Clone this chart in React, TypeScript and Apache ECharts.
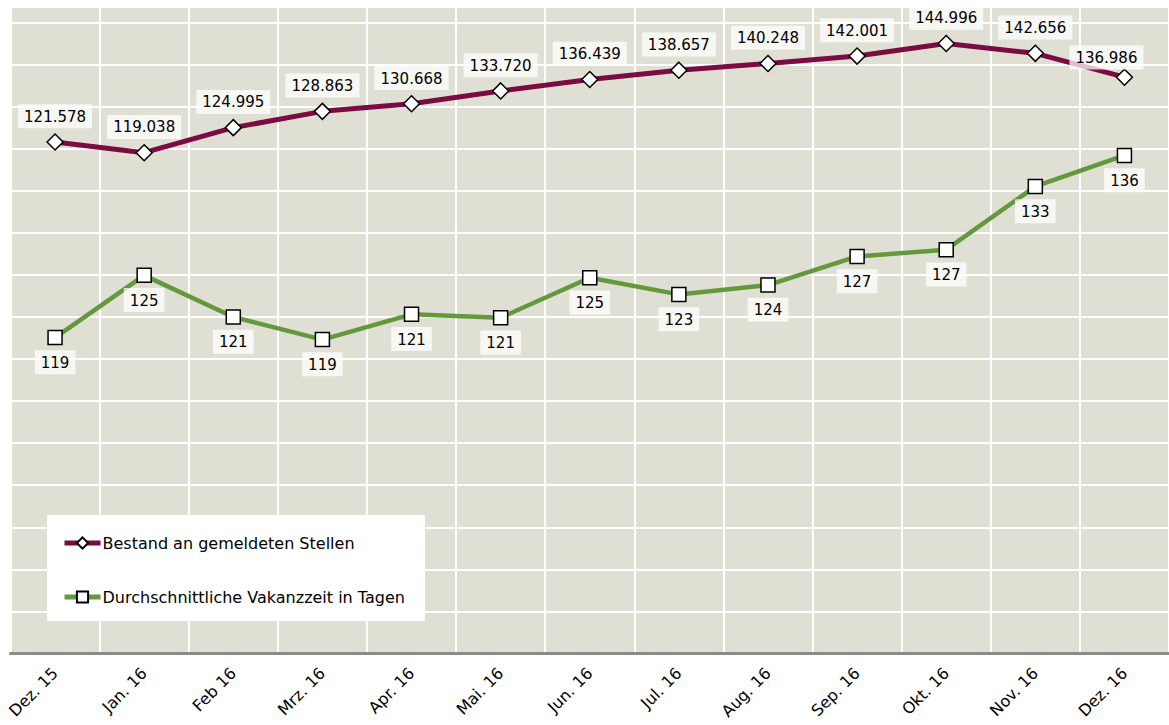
import React, { useEffect, useRef } from "react";
import * as echarts from "echarts";

const categories = [
  "Dez. 15", "Jan. 16", "Feb 16", "Mrz. 16", "Apr. 16", "Mai. 16", "Jun. 16",
  "Jul. 16", "Aug. 16", "Sep. 16", "Okt. 16", "Nov. 16", "Dez. 16",
];
// Bestand an gemeldeten Stellen (in Tausend)
const bestand = [
  121.578, 119.038, 124.995, 128.863, 130.668, 133.72, 136.439,
  138.657, 140.248, 142.001, 144.996, 142.656, 136.986,
];
// Durchschnittliche Vakanzzeit in Tagen (geschätzt aus Bild)
const vakanz = [
  119.17, 124.92, 121.07, 118.99, 121.32, 121.01, 124.7,
  123.16, 124.02, 126.67, 127.29, 133.13, 135.99,
];
const seriesNames = [
  "Bestand an gemeldeten Stellen",
  "Durchschnittliche Vakanzzeit in Tagen",
];

const FONT = "DejaVu Sans";
const MAROON = "#7c0a43";
const GREEN = "#64993b";
const PLOT_BG = "#dfe0d3";

export default function App() {
  const ref = useRef<HTMLDivElement>(null);

  useEffect(() => {
    if (!ref.current) return;
    const chart = echarts.init(ref.current, null, { renderer: "svg" });

    const labelBox = {
      show: true,
      color: "#000",
      fontFamily: FONT,
      fontSize: 15,
      backgroundColor: "rgba(255,255,255,0.75)",
      padding: [5, 6, 4, 6],
    };

    chart.setOption({
      animation: false,
      backgroundColor: "#ffffff",
      grid: {
        left: 10.5,
        top: 7,
        width: 1165,
        height: 646.5,
        show: true,
        backgroundColor: PLOT_BG,
        borderWidth: 0,
      },
      graphic: [
        {
          type: "rect",
          z: 3,
          shape: { x: 47, y: 515, width: 378, height: 106 },
          style: { fill: "#ffffff" },
        },
      ],
      legend: {
        z: 4,
        orient: "vertical",
        left: 62,
        top: 535,
        padding: 0,
        itemGap: 38,
        itemWidth: 36,
        itemHeight: 14,
        data: seriesNames,
        lineStyle: { width: 5 },
        textStyle: {
          fontFamily: FONT,
          fontSize: 16,
          color: "#000",
          padding: [0, 0, 0, -3],
        },
      },
      xAxis: {
        type: "category",
        data: categories,
        boundaryGap: true,
        axisLine: { show: true, lineStyle: { color: "#8a8a8a", width: 3 } },
        axisTick: { show: false },
        splitLine: {
          show: true,
          interval: 0,
          lineStyle: { color: "#ffffff", width: 2 },
        },
        axisLabel: {
          interval: 0,
          rotate: 45,
          margin: 17,
          color: "#000",
          fontFamily: FONT,
          fontSize: 16,
        },
      },
      yAxis: [
        {
          type: "value",
          min: 0,
          max: 153.67,
          interval: 10,
          axisLine: { show: false },
          axisTick: { show: false },
          axisLabel: { show: false },
          splitLine: { show: true, lineStyle: { color: "#ffffff", width: 2 } },
        },
        {
          type: "value",
          min: 90,
          max: 149.7,
          axisLine: { show: false },
          axisTick: { show: false },
          axisLabel: { show: false },
          splitLine: { show: false },
        },
      ],
      series: [
        {
          name: seriesNames[0],
          type: "line",
          yAxisIndex: 0,
          data: bestand.map((v, i) =>
            i === bestand.length - 1
              ? { value: v, label: { offset: [-18, 6] } }
              : v
          ),
          symbol: "diamond",
          symbolSize: 16,
          lineStyle: { color: MAROON, width: 5 },
          itemStyle: { color: "#ffffff", borderColor: "#000", borderWidth: 1.5 },
          label: {
            ...labelBox,
            position: "top",
            distance: 5,
            formatter: (p: any) => Number(p.value).toFixed(3),
          },
          z: 5,
        },
        {
          name: seriesNames[1],
          type: "line",
          yAxisIndex: 1,
          data: vakanz,
          symbol: "rect",
          symbolSize: 14,
          lineStyle: { color: GREEN, width: 4.5 },
          itemStyle: { color: "#ffffff", borderColor: "#000", borderWidth: 1.5 },
          label: {
            ...labelBox,
            position: "bottom",
            distance: 5,
            formatter: (p: any) => String(Math.round(Number(p.value))),
          },
          z: 5,
        },
      ],
    });

    return () => chart.dispose();
  }, []);

  return (
    <div
      ref={ref}
      style={{ position: "fixed", left: 0, top: 0, width: 1169, height: 725 }}
    />
  );
}
